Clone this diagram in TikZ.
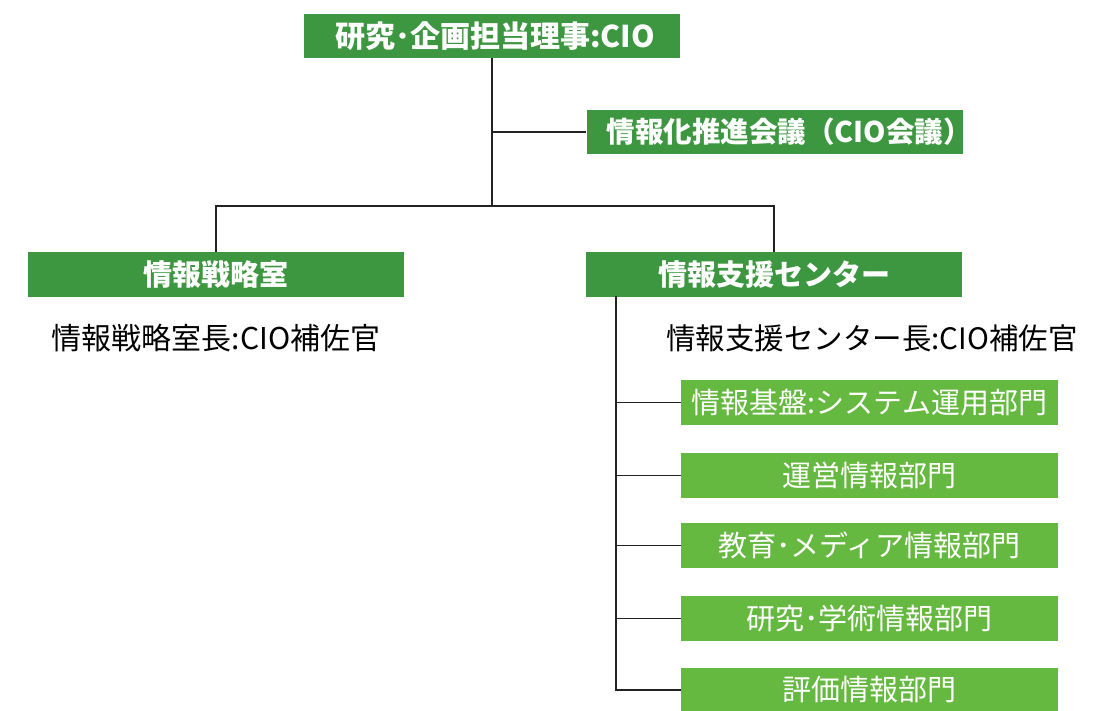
\documentclass[tikz,border=0pt]{standalone}
\usepackage{fontspec}
\setmainfont{Noto Sans CJK JP}
\definecolor{dkgreen}{HTML}{3D9640}
\definecolor{ltgreen}{HTML}{66B940}
\definecolor{lineclr}{HTML}{222222}
\begin{document}
\begin{tikzpicture}[x=1pt,y=-1pt,
  topbox/.style={rectangle,fill=dkgreen,text=white,minimum width=376pt,minimum height=44pt,inner sep=0pt,font=\fontsize{29}{29}\selectfont\bfseries},
  subbox/.style={rectangle,fill=ltgreen,text=white,minimum width=377pt,minimum height=45pt,inner sep=0pt,font=\fontsize{29}{29}\selectfont},
  lbl/.style={inner sep=0pt,text=black,font=\fontsize{30}{30}\selectfont},
  conn/.style={draw=lineclr,line width=1.4pt}]
\useasboundingbox (0,0) rectangle (1106,711);
\fill[white] (0,0) rectangle (1106,711);
\node[topbox,font=\fontsize{30}{30}\selectfont\bfseries] (top) at (492,36) {\hspace*{6pt}研究･企画担当理事:CIO};
\node[topbox,font=\fontsize{28.5}{28.5}\selectfont\bfseries] (council) at (774.5,132) {\makebox[376pt][r]{情報化推進会議（CIO会議）\hspace*{-9pt}}};
\node[topbox,minimum height=45pt] (left) at (216,274.5) {情報戦略室};
\node[topbox,minimum height=45pt] (right) at (774,274.5) {情報支援センター};
\node[lbl] (leftlbl) at (216,338) {情報戦略室長:CIO補佐官};
\node[lbl,font=\fontsize{29.5}{29.5}\selectfont] (rightlbl) at (872,338) {情報支援センター長:CIO補佐官};
\node[subbox] (s1) at (869.5,402.5) {情報基盤:システム運用部門};
\node[subbox] (s2) at (869.5,475.5) {運営情報部門};
\node[subbox] (s3) at (869.5,545.5) {教育･メディア情報部門};
\node[subbox] (s4) at (869.5,618.5) {研究･学術情報部門};
\node[subbox] (s5) at (869.5,690) {評価情報部門};
\coordinate (j) at (492,206);
\coordinate (t) at (616,296.5);
\draw[conn] (top.south) -- (j);
\draw[conn] (top.south |- council.west) -- (council.west);
\draw[conn] (left.north) |- (j) -| (right.north);
\draw[conn] (t) |- (s5.west);
\foreach \s in {s1,s2,s3,s4}{\draw[conn] (t |- \s.west) -- (\s.west);}
\end{tikzpicture}
\end{document}
